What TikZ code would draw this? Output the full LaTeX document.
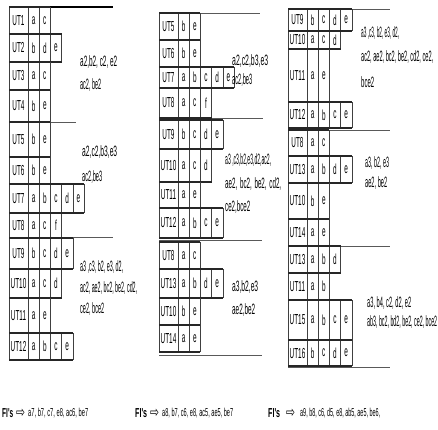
\documentclass[tikz,border=0pt]{standalone}
\usepackage{fontspec}
\usepackage{graphicx}
\setmainfont{Liberation Sans}
\newfontfamily\nfc[FakeStretch=0.44]{Liberation Sans}
\newfontfamily\nfl{Liberation Sans}
\newfontfamily\dv{DejaVu Sans}
\newcommand\fw[2]{\resizebox{#1pt}{\height}{#2}}
\newcommand\utrow[5]{%
  \node[celltxt] at ({#1+9.5},{(#2+#3)/2}) {#4};
  \foreach \l [count=\i] in {#5} {
    \node[celltxt] at ({#1+19+(\i-0.5)*11.2},{(#2+#3)/2}) {\l};
    \draw[vline] ({#1+19+\i*11.2},#2) -- ({#1+19+\i*11.2},#3);
    \xdef\rend{\i}
  }
  \draw[vline] (#1,#2) -- (#1,#3);
  \draw[vline] ({#1+19},#2) -- ({#1+19},#3);
  \draw[hline] (#1,#2) -- ({#1+19+\rend*11.2},#2);
  \draw[hline] (#1,#3) -- ({#1+19+\rend*11.2},#3);
}
\begin{document}
\begin{tikzpicture}[x=1pt,y=-1pt,
  celltxt/.style={font=\nfc\fontsize{14.5}{16}\selectfont, inner sep=0pt},
  lbl/.style={font=\nfl\fontsize{15}{17}\selectfont, anchor=west, inner sep=0pt},
  fitxt/.style={font=\nfl\fontsize{11.5}{13}\selectfont, anchor=west, inner sep=0pt},
  fihead/.style={font=\nfl\bfseries\fontsize{13}{15}\selectfont, anchor=west, inner sep=0pt},
  arr/.style={font=\dv\fontsize{15}{17}\selectfont, anchor=west, inner sep=0pt},
  hline/.style={line width=1.1pt, black!85},
  vline/.style={line width=0.6pt, black!75},
  sep/.style={line width=0.9pt, black!65}]
\useasboundingbox[fill=white] (0,0) rectangle (438,429);

% ---------- left column ----------
\draw[line width=1.3pt] (9,7) -- (113,7);
\draw[sep] (9,122) -- (76,122);
\draw[sep] (9,237) -- (113,237);
\utrow{9}{7}{34}{UT1}{a,c}
\utrow{9}{34}{62}{UT2}{b,d,e}
\utrow{9}{62}{90}{UT3}{a,c}
\utrow{9}{90}{122}{UT4}{b,e}
\utrow{9}{122}{157}{UT5}{b,e}
\utrow{9}{157}{184}{UT6}{b,e}
\utrow{9}{184}{213}{UT7}{a,b,c,d,e}
\utrow{9}{213}{238}{UT8}{a,c,f}
\utrow{9}{238}{269}{UT9}{b,c,d,e}
\utrow{9}{269}{298}{UT10}{a,c,d}
\utrow{9}{298}{333}{UT11}{a,e}
\utrow{9}{333}{360}{UT12}{a,b,c,e}
\node[lbl] (l1a) at (80,62) {\fw{37}{a2,b2, c2, e2}};
\node[lbl] (l1b) at (80,85) {\fw{21}{ac2, be2}};
\node[lbl] (l2a) at (82,152) {\fw{35}{a2,c2,b3,e3}};
\node[lbl] (l2b) at (82,177) {\fw{20}{ac2,be3}};
\node[lbl] (l3a) at (80,267) {\fw{43}{a3 ,c3, b2, e3, d2,}};
\node[lbl] (l3b) at (80,288) {\fw{57}{ac2, ae2, bc2, be2, cd2,}};
\node[lbl] (l3c) at (80,309) {\fw{24}{ce2, bce2}};

% ---------- middle column ----------
\draw[sep] (159,13) -- (260,13);
\draw[sep] (159,118) -- (263,118);
\draw[sep] (159,240) -- (262,240);
\draw[sep] (159,355) -- (262,355);
\utrow{159}{13}{40}{UT5}{b,e}
\utrow{159}{40}{67}{UT6}{b,e}
\utrow{159}{67}{88}{UT7}{a,b,c,d,e}
\utrow{159}{88}{118}{UT8}{a,c,f}
\utrow{159}{120}{149}{UT9}{b,c,d,e}
\utrow{159}{149}{182}{UT10}{a,c,d}
\utrow{159}{182}{208}{UT11}{a,e}
\utrow{159}{208}{238}{UT12}{a,b,c,e}
\utrow{159}{242}{269}{UT8}{a,c}
\utrow{159}{269}{298}{UT13}{a,b,d,e}
\utrow{159}{298}{325}{UT10}{b,e}
\utrow{159}{325}{352}{UT14}{a,e}
\node[lbl] (m1a) at (232,61) {\fw{36}{a2,c2,b3,e3}};
\node[lbl] (m1b) at (232,80) {\fw{20}{ac2,be3}};
\node[lbl] (m2a) at (225,160) {\fw{46}{a3 ,c3,b2,e3,d2,ac2,}};
\node[lbl] (m2b) at (225,184) {\fw{56}{ae2,\, bc2,\, be2,\, cd2,}};
\node[lbl] (m2c) at (225,207) {\fw{25}{ce2,bce2}};
\node[lbl] (m3a) at (232,287) {\fw{26}{a3,b2,e3}};
\node[lbl] (m3b) at (232,310) {\fw{23}{ae2,be2}};

% ---------- right column ----------
\draw[sep] (288,9) -- (390,9);
\draw[sep] (288,130) -- (390,130);
\draw[sep] (288,246) -- (390,246);
\draw[sep] (288,367) -- (390,367);
\utrow{288}{9}{31}{UT9}{b,c,d,e}
\utrow{288}{31}{49}{UT10}{a,c,d}
\utrow{288}{49}{102}{UT11}{a,e}
\utrow{288}{102}{128}{UT12}{a,b,c,e}
\utrow{288}{130}{156}{UT8}{a,c}
\utrow{288}{156}{183}{UT13}{a,b,d,e}
\utrow{288}{183}{219}{UT10}{b,e}
\utrow{288}{219}{246}{UT14}{a,e}
\utrow{288}{246}{273}{UT13}{a,b,d}
\utrow{288}{273}{300}{UT11}{a,b}
\utrow{288}{300}{340}{UT15}{a,b,c,e}
\utrow{288}{340}{366}{UT16}{b,c,d,e}
\node[lbl] (r1a) at (361,33) {\fw{38}{a3 ,c3, b2, e3, d2,}};
\node[lbl] (r1b) at (361,57) {\fw{72}{ac2, ae2, bc2, be2, cd2, ce2,}};
\node[lbl] (r1c) at (361,82) {\fw{13}{bce2}};
\node[lbl] (r2a) at (365,163) {\fw{24}{a3, b2, e3}};
\node[lbl] (r2b) at (365,183) {\fw{22}{ae2, be2}};
\node[lbl] (r3a) at (367,303) {\fw{44}{a3, b4, c2, d2, e2}};
\node[lbl] (r3b) at (367,322) {\fw{70}{ab3, bc2, bd2, be2, ce2, bce2}};

% ---------- bottom ----------
\node[fihead] (f1) at (2,413) {\fw{11}{FI's}};
\node[arr] (a1) at (16,413) {\fw{9}{⇨}};
\node[fitxt] (t1) at (28,413) {\fw{60}{a7, b7, c7, e8, ac6, be7}};
\node[fihead] (f2) at (135,413) {\fw{12}{FI's}};
\node[arr] (a2) at (150,413) {\fw{9}{⇨}};
\node[fitxt] (t2) at (162,413) {\fw{71}{a8, b7, c6, e8, ac5, ae5, be7}};
\node[fihead] (f3) at (268,413) {\fw{12}{FI's}};
\node[arr] (a3) at (286,413) {\fw{9}{⇨}};
\node[fitxt] (t3) at (300,413) {\fw{80}{a9, b8, c6, d5, e8, ab5, ae5, be6,}};
\end{tikzpicture}
\end{document}
